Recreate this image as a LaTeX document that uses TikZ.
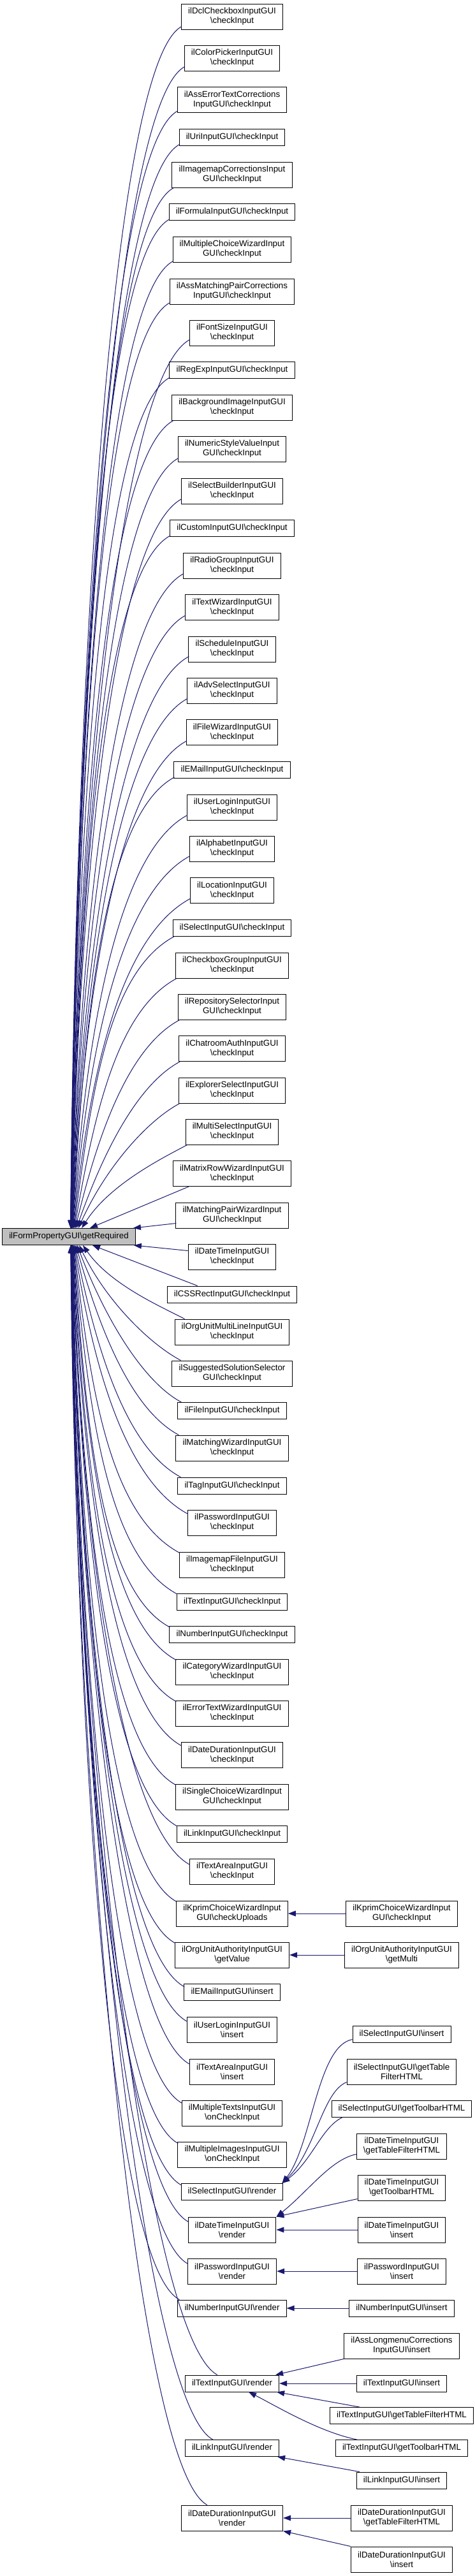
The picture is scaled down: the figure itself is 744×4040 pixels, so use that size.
\documentclass[tikz,border=0pt]{standalone}
\usepackage{fontspec}
\setmainfont{Liberation Sans}
\usetikzlibrary{arrows.meta,calc}
\definecolor{edgeblue}{HTML}{191970}
\definecolor{rootgray}{HTML}{BFBFBF}
\newcommand\bksl{\textbackslash}
\tikzset{
  box/.style={draw=black, line width=0.75pt, fill=white, align=center, inner xsep=8pt, inner ysep=0pt, minimum height=30pt, font=\fontsize{10pt}{11.25pt}\selectfont},
  boxone/.style={box, minimum height=19.5pt},
  rootbox/.style={boxone, fill=rootgray},
  edge/.style={draw=edgeblue, line width=0.75pt, -{Triangle[length=9pt,width=6.5pt]}}
}
\begin{document}
\begin{tikzpicture}[x=0.75pt,y=-0.75pt]
\useasboundingbox (0,0) rectangle (744,4040);
% root
\node[rootbox] (root) at (108,1939.5) {ilFormPropertyGUI\bksl getRequired};
% middle column
\node[box] (n1) at (364,26) {ilDclCheckboxInputGUI\\\bksl checkInput};
\node[box] (n2) at (364,91) {ilColorPickerInputGUI\\\bksl checkInput};
\node[box] (n3) at (364,156.5) {ilAssErrorTextCorrections\\InputGUI\bksl checkInput};
\node[boxone] (n4) at (364,215) {ilUriInputGUI\bksl checkInput};
\node[box] (n5) at (364,274) {ilImagemapCorrectionsInput\\GUI\bksl checkInput};
\node[boxone] (n6) at (364,332.5) {ilFormulaInputGUI\bksl checkInput};
\node[box] (n7) at (364,391) {ilMultipleChoiceWizardInput\\GUI\bksl checkInput};
\node[box] (n8) at (364,457) {ilAssMatchingPairCorrections\\InputGUI\bksl checkInput};
\node[box] (n9) at (364,522) {ilFontSizeInputGUI\\\bksl checkInput};
\node[boxone] (n10) at (364,580.5) {ilRegExpInputGUI\bksl checkInput};
\node[box] (n11) at (364,639) {ilBackgroundImageInputGUI\\\bksl checkInput};
\node[box] (n12) at (364,704) {ilNumericStyleValueInput\\GUI\bksl checkInput};
\node[box] (n13) at (364,770) {ilSelectBuilderInputGUI\\\bksl checkInput};
\node[boxone] (n14) at (364,828.5) {ilCustomInputGUI\bksl checkInput};
\node[box] (n15) at (364,887) {ilRadioGroupInputGUI\\\bksl checkInput};
\node[box] (n16) at (364,952.5) {ilTextWizardInputGUI\\\bksl checkInput};
\node[box] (n17) at (364,1018) {ilScheduleInputGUI\\\bksl checkInput};
\node[box] (n18) at (364,1083) {ilAdvSelectInputGUI\\\bksl checkInput};
\node[box] (n19) at (364,1148.5) {ilFileWizardInputGUI\\\bksl checkInput};
\node[boxone] (n20) at (364,1207.5) {ilEMailInputGUI\bksl checkInput};
\node[box] (n21) at (364,1266) {ilUserLoginInputGUI\\\bksl checkInput};
\node[box] (n22) at (364,1331) {ilAlphabetInputGUI\\\bksl checkInput};
\node[box] (n23) at (364,1396.5) {ilLocationInputGUI\\\bksl checkInput};
\node[boxone] (n24) at (364,1455) {ilSelectInputGUI\bksl checkInput};
\node[box] (n25) at (364,1514) {ilCheckboxGroupInputGUI\\\bksl checkInput};
\node[box] (n26) at (364,1579) {ilRepositorySelectorInput\\GUI\bksl checkInput};
\node[box] (n27) at (364,1644.5) {ilChatroomAuthInputGUI\\\bksl checkInput};
\node[box] (n28) at (364,1710) {ilExplorerSelectInputGUI\\\bksl checkInput};
\node[box] (n29) at (364,1775) {ilMultiSelectInputGUI\\\bksl checkInput};
\node[box] (n30) at (364,1840.5) {ilMatrixRowWizardInputGUI\\\bksl checkInput};
\node[box] (n31) at (364,1906) {ilMatchingPairWizardInput\\GUI\bksl checkInput};
\node[box] (n32) at (364,1971) {ilDateTimeInputGUI\\\bksl checkInput};
\node[boxone] (n33) at (364,2030) {ilCSSRectInputGUI\bksl checkInput};
\node[box] (n34) at (364,2089) {ilOrgUnitMultiLineInputGUI\\\bksl checkInput};
\node[box] (n35) at (364,2154) {ilSuggestedSolutionSelector\\GUI\bksl checkInput};
\node[boxone] (n36) at (364,2212.5) {ilFileInputGUI\bksl checkInput};
\node[box] (n37) at (364,2271) {ilMatchingWizardInputGUI\\\bksl checkInput};
\node[boxone] (n38) at (364,2330) {ilTagInputGUI\bksl checkInput};
\node[box] (n39) at (364,2388) {ilPasswordInputGUI\\\bksl checkInput};
\node[box] (n40) at (364,2454) {ilImagemapFileInputGUI\\\bksl checkInput};
\node[boxone] (n41) at (364,2512.5) {ilTextInputGUI\bksl checkInput};
\node[boxone] (n42) at (364,2563.5) {ilNumberInputGUI\bksl checkInput};
\node[box] (n43) at (364,2622) {ilCategoryWizardInputGUI\\\bksl checkInput};
\node[box] (n44) at (364,2687) {ilErrorTextWizardInputGUI\\\bksl checkInput};
\node[box] (n45) at (364,2752.5) {ilDateDurationInputGUI\\\bksl checkInput};
\node[box] (n46) at (364,2818) {ilSingleChoiceWizardInput\\GUI\bksl checkInput};
\node[boxone] (n47) at (364,2876.5) {ilLinkInputGUI\bksl checkInput};
\node[box] (n48) at (364,2935) {ilTextAreaInputGUI\\\bksl checkInput};
\node[box] (n49) at (364,3001) {ilKprimChoiceWizardInput\\GUI\bksl checkUploads};
\node[box] (n50) at (364,3066) {ilOrgUnitAuthorityInputGUI\\\bksl getValue};
\node[boxone] (n51) at (364,3124.5) {ilEMailInputGUI\bksl insert};
\node[box] (n52) at (364,3183) {ilUserLoginInputGUI\\\bksl insert};
\node[box] (n53) at (364,3249) {ilTextAreaInputGUI\\\bksl insert};
\node[box] (n54) at (364,3314) {ilMultipleTextsInputGUI\\\bksl onCheckInput};
\node[box] (n55) at (364,3379) {ilMultipleImagesInputGUI\\\bksl onCheckInput};
\node[boxone] (n56) at (364,3437.5) {ilSelectInputGUI\bksl render};
\node[box] (n57) at (364,3497) {ilDateTimeInputGUI\\\bksl render};
\node[box] (n58) at (364,3562) {ilPasswordInputGUI\\\bksl render};
\node[boxone] (n59) at (364,3620) {ilNumberInputGUI\bksl render};
\node[boxone] (n60) at (364,3738) {ilTextInputGUI\bksl render};
\node[boxone] (n61) at (364,3839.5) {ilLinkInputGUI\bksl render};
\node[box] (n62) at (364,3949) {ilDateDurationInputGUI\\\bksl render};
% right column
\node[box] (r49) at (630,3001) {ilKprimChoiceWizardInput\\GUI\bksl checkInput};
\node[box] (r50) at (630,3066) {ilOrgUnitAuthorityInputGUI\\\bksl getMulti};
\node[boxone] (ra) at (630,3190) {ilSelectInputGUI\bksl insert};
\node[box] (rb) at (630,3249) {ilSelectInputGUI\bksl getTable\\FilterHTML};
\node[boxone] (rc) at (630,3307) {ilSelectInputGUI\bksl getToolbarHTML};
\node[box] (rd) at (630,3366) {ilDateTimeInputGUI\\\bksl getTableFilterHTML};
\node[box] (re) at (630,3431) {ilDateTimeInputGUI\\\bksl getToolbarHTML};
\node[box] (rf) at (630,3497) {ilDateTimeInputGUI\\\bksl insert};
\node[box] (rg) at (630,3562) {ilPasswordInputGUI\\\bksl insert};
\node[boxone] (rh) at (630,3620) {ilNumberInputGUI\bksl insert};
\node[box] (ri) at (630,3679) {ilAssLongmenuCorrections\\InputGUI\bksl insert};
\node[boxone] (rj) at (630,3738) {ilTextInputGUI\bksl insert};
\node[boxone] (rk) at (630,3788.5) {ilTextInputGUI\bksl getTableFilterHTML};
\node[boxone] (rl) at (630,3839.5) {ilTextInputGUI\bksl getToolbarHTML};
\node[boxone] (rm) at (630,3890) {ilLinkInputGUI\bksl insert};
\node[box] (rn) at (630,3949) {ilDateDurationInputGUI\\\bksl getTableFilterHTML};
\node[box] (ro) at (630,4014) {ilDateDurationInputGUI\\\bksl insert};
% edges from upper nodes to root
\foreach \n/\yc/\d/\ex/\ey in {n1/26/30/1/-5, n2/91/29/1/-7, n3/156.5/28/1/-3, n4/215/27/1/-2, n5/274/26/3/0, n6/332.5/25/1/-2, n7/391/24/1/-2, n8/457/23/1/-3, n9/522/22/1/-10, n10/580.5/21/1/-2, n11/639/20/3/0, n12/704/19/1/-6, n13/770/18/1/-8, n14/828.5/17/1/-2, n15/887/16/1/-8, n16/952.5/15/1/-8, n17/1018/14/1/-9, n18/1083/13/1/-8, n19/1148.5/12/1/-7, n20/1207.5/11/1/-2, n21/1266/10/1/-8, n22/1331/9/1/-9, n23/1396.5/8/1/-8, n24/1455/7/3/0, n25/1514/6/2/0, n26/1579/5/3/0, n27/1644.5/4/2/0, n28/1710/3/2/0, n29/1775/2/3/0}{
  \pgfmathsetmacro\qL{abs(\yc-1939.5)}
  \pgfmathsetmacro\qm{min(130,0.25*\qL)}
  \pgfmathsetmacro\qkx{43.75*min(1,300/\qL)}
  \pgfmathsetmacro\qky{0.42*\qL}
  \pgfmathsetmacro\qdx{34/(\d^0.75)}
  \draw[edge] ($(\n.south west)+(\ex,\ey)$) .. controls ($(\n.south west)+({\ex-0.88*\qm},{\ey+0.47*\qm})$) and ($(root.north)+({\qdx+\qkx},{-\qky})$) .. ($(root.north)+(\qdx,0)$);
}
\draw[edge] ($(n30.south west)+(25,0)$) -- ($(root.north)+(33,0)$);
\draw[edge] ($(n31.south west)+(1,-8)$) -- ($(root.north east)+(-4,0)$);
\draw[edge] ($(n32.north west)+(0,11)$) -- ($(root.south east)+(-3,0)$);
\draw[edge] ($(n33.north west)+(48,0)$) -- ($(root.south)+(37,0)$);
% edges from lower nodes to root
\foreach \n/\yc/\d/\ex/\ey in {n34/2089/2/16/0, n35/2154/3/14/0, n36/2212.5/4/6/0, n37/2271/5/5/0, n38/2330/6/5/0, n39/2388/7/1/7, n40/2454/8/1/2, n41/2512.5/9/1/1, n42/2563.5/10/1/2, n43/2622/11/1/2, n44/2687/12/1/2, n45/2752.5/13/1/6, n46/2818/14/1/2, n47/2876.5/15/1/1, n48/2935/16/1/10, n49/3001/17/1/2, n50/3066/18/1/2, n51/3124.5/19/1/5, n52/3183/20/1/8, n53/3249/21/1/9, n54/3314/22/1/5, n55/3379/23/1/3, n56/3437.5/24/1/3, n57/3497/25/1/8, n58/3562/26/1/9, n59/3620/27/3/0, n60/3738/28/51/0, n61/3839.5/29/44/0, n62/3949/30/41/0}{
  \pgfmathsetmacro\qL{abs(\yc-1939.5)}
  \pgfmathsetmacro\qm{min(130,0.25*\qL)}
  \pgfmathsetmacro\qkx{43.75*min(1,300/\qL)}
  \pgfmathsetmacro\qky{0.42*\qL}
  \pgfmathsetmacro\qdx{37/(\d^0.75)}
  \draw[edge] ($(\n.north west)+(\ex,\ey)$) .. controls ($(\n.north west)+({\ex-0.88*\qm},{\ey-0.47*\qm})$) and ($(root.south)+({\qdx+\qkx},{\qky})$) .. ($(root.south)+(\qdx,0)$);
}
% edges from right column
\draw[edge] (r49.west) -- (n49.east);
\draw[edge] (r50.west) -- (n50.east);
\draw[edge] ($(ra.south west)+(0,-5)$) .. controls ($(ra.south west)+(-55,5)$) and ($(n56.north east)+(45,-60)$) .. ($(n56.north east)+(-2,0)$);
\draw[edge] ($(rb.south west)+(0,-4)$) .. controls ($(rb.south west)+(-38,11)$) and ($(n56.north east)+(50,-50)$) .. ($(n56.north east)+(-2,0)$);
\draw[edge] ($(rc.south west)+(18,0)$) .. controls ($(rc.south west)+(-15,15)$) and ($(n56.north east)+(45,-35)$) .. ($(n56.north east)+(-2,0)$);
\draw[edge] ($(rd.south west)+(0,-8)$) .. controls ($(rd.south west)+(-40,0)$) and ($(n57.north east)+(50,-40)$) .. (n57.north east);
\draw[edge] ($(re.south west)+(0,-3)$) -- (n57.north east);
\draw[edge] (rf.west) -- (n57.east);
\draw[edge] (rg.west) -- (n58.east);
\draw[edge] (rh.west) -- (n59.east);
\draw[edge] (ri.south west) -- ($(n60.north east)+(-6,0)$);
\draw[edge] (rj.west) -- (n60.east);
\draw[edge] ($(rk.north west)+(47,0)$) -- ($(n60.south east)+(-4,0)$);
\draw[edge] ($(rl.north west)+(34,0)$) .. controls ($(rl.north west)+(-26,-12)$) and ($(n60.south)+(66,20)$) .. ($(n60.south)+(26,0)$);
\draw[edge] ($(rm.north west)+(5,0)$) -- ($(n61.south east)+(-3,0)$);
\draw[edge] (rn.west) -- (n62.east);
\draw[edge] (ro.north west) -- (n62.south east);
\end{tikzpicture}
\end{document}
